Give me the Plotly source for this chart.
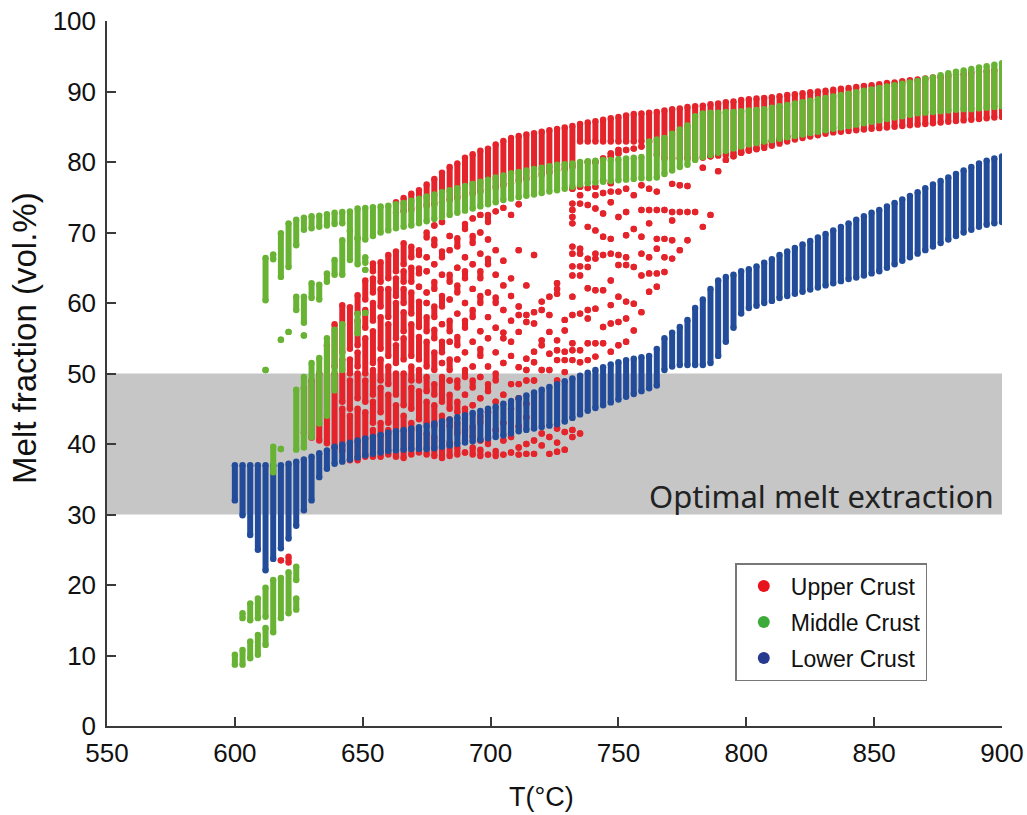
import plotly.graph_objects as go

# ---------------- data ----------------
# Each model column is a temperature step; dense runs of points are stored as
# (T, lowest melt fraction, highest melt fraction); isolated points as (T, [y...]).

# Lower crust (blue): one dense run per temperature column
LC_T = [600, 603, 606, 609, 612, 615, 618, 621, 624, 627, 630, 633, 636, 639, 642, 645, 648,
        651, 654, 657, 660, 663, 666, 669, 672, 675, 678, 681, 684, 687, 690, 693, 696, 699,
        702, 705, 708, 711, 714, 717, 720, 723, 726, 729, 732, 735, 738, 741, 744, 747, 750,
        753, 756, 759, 762, 765, 768, 771, 774, 777, 780, 783, 786, 789, 792, 795, 798, 801,
        804, 807, 810, 813, 816, 819, 822, 825, 828, 831, 834, 837, 840, 843, 846, 849, 852,
        855, 858, 861, 864, 867, 870, 873, 876, 879, 882, 885, 888, 891, 894, 897, 900]
LC_LO = [32.0, 29.9, 27.1, 25.0, 22.1, 23.7, 25.2, 26.6, 28.4, 30.6, 32.0, 35.3, 36.5, 37.2,
         37.5, 37.8, 38.1, 38.4, 38.6, 38.8, 39.0, 39.1, 39.2, 39.3, 39.3, 39.3, 39.4, 39.6,
         39.8, 40.0, 40.2, 40.4, 40.6, 40.8, 41.0, 41.2, 41.5, 41.8, 42.0, 42.2, 42.4, 42.6,
         42.8, 43.2, 43.7, 44.2, 44.7, 45.1, 45.5, 45.9, 46.3, 46.7, 47.1, 47.5, 47.9, 48.3,
         50.5, 51.0, 51.2, 51.2, 51.2, 51.2, 51.5, 52.5, 54.5, 56.5, 58.5, 59.3, 59.6, 60.0,
         60.3, 60.7, 61.0, 61.3, 61.6, 61.9, 62.2, 62.5, 62.8, 63.1, 63.4, 63.6, 63.9, 64.2,
         64.5, 65.0, 65.5, 66.0, 66.5, 67.0, 67.5, 68.0, 68.5, 69.0, 69.5, 70.0, 70.4, 70.8,
         71.1, 71.3, 71.5]
LC_HI = [37.0, 37.0, 37.0, 37.0, 37.0, 37.0, 37.0, 37.2, 37.5, 37.8, 38.2, 38.7, 39.1, 39.6,
         39.9, 40.2, 40.5, 40.8, 41.0, 41.3, 41.6, 41.8, 42.0, 42.2, 42.4, 42.6, 42.9, 43.2,
         43.5, 43.8, 44.1, 44.4, 44.7, 45.0, 45.3, 45.7, 46.1, 46.5, 46.9, 47.3, 47.7, 48.1,
         48.5, 48.9, 49.3, 49.7, 50.1, 50.5, 50.9, 51.3, 51.6, 51.9, 52.1, 52.3, 52.5, 53.5,
         55.0, 55.8, 56.6, 57.6, 59.3, 60.5, 62.0, 63.2, 63.7, 64.0, 64.5, 64.8, 65.2, 65.7,
         66.2, 66.8, 67.3, 67.8, 68.3, 68.8, 69.3, 69.8, 70.3, 70.8, 71.3, 71.8, 72.3, 72.8,
         73.2, 73.7, 74.2, 74.7, 75.2, 75.7, 76.3, 76.8, 77.3, 77.8, 78.3, 78.8, 79.3, 79.8,
         80.2, 80.5, 80.8]

# Middle crust (green): main band 645-900 C
MC_T = [645, 648, 651, 654, 657, 660, 663, 666, 669, 672, 675, 678, 681, 684, 687, 690, 693,
        696, 699, 702, 705, 708, 711, 714, 717, 720, 723, 726, 729, 732, 735, 738, 741, 744,
        747, 750, 753, 756, 759, 762, 765, 768, 771, 774, 777, 780, 783, 786, 789, 792, 795,
        798, 801, 804, 807, 810, 813, 816, 819, 822, 825, 828, 831, 834, 837, 840, 843, 846,
        849, 852, 855, 858, 861, 864, 867, 870, 873, 876, 879, 882, 885, 888, 891, 894, 897, 900]
MC_LO = [70.2, 69.2, 69.0, 69.5, 70.0, 70.3, 70.6, 70.8, 71.0, 71.3, 71.6, 71.9, 72.2, 72.5,
         72.8, 73.1, 73.4, 73.7, 74.0, 74.3, 74.6, 74.8, 75.0, 75.2, 75.4, 75.6, 75.8, 76.0,
         76.2, 76.5, 76.8, 77.0, 77.1, 77.2, 77.3, 77.4, 77.5, 77.6, 77.7, 77.7, 77.8, 78.3,
         78.8, 79.3, 79.6, 80.3, 80.7, 81.0, 81.3, 81.6, 81.9, 82.2, 82.5, 82.7, 82.9, 83.1,
         83.3, 83.5, 83.7, 83.9, 84.1, 84.3, 84.5, 84.7, 84.9, 85.1, 85.3, 85.5, 85.7, 85.9,
         86.1, 86.3, 86.5, 86.7, 86.9, 87.0, 87.1, 87.2, 87.3, 87.4, 87.5, 87.5, 87.6, 87.7,
         87.8, 87.9]
MC_HI = [73.0, 73.4, 73.5, 73.6, 73.7, 73.8, 74.0, 74.2, 74.5, 74.8, 75.1, 75.4, 75.7, 76.0,
         76.3, 76.6, 76.9, 77.2, 77.5, 77.8, 78.1, 78.4, 78.6, 78.8, 79.0, 79.2, 79.4, 79.6,
         79.7, 79.8, 80.0, 80.1, 80.2, 80.3, 80.3, 80.4, 80.5, 80.6, 80.7, 82.9, 83.2, 83.4,
         84.0, 84.6, 85.2, 86.5, 86.9, 87.0, 87.0, 87.1, 87.1, 87.2, 87.3, 87.4, 87.5, 87.7,
         87.9, 88.1, 88.3, 88.5, 88.7, 88.9, 89.1, 89.3, 89.5, 89.7, 89.9, 90.1, 90.3, 90.5,
         90.7, 90.9, 91.1, 91.3, 91.5, 91.8, 92.0, 92.3, 92.6, 92.8, 93.0, 93.2, 93.4, 93.6,
         93.8, 94.0]
# Middle crust: low-temperature runs (T, lo, hi)
MC_EXTRA = [
    (600, 8.7, 10.1), (603, 8.7, 10.8), (603, 15.3, 16.0), (606, 9.6, 12.0), (606, 15.0, 17.4),
    (609, 10.1, 12.9), (609, 15.3, 18.1), (612, 11.5, 13.9), (612, 15.5, 19.6), (615, 13.3, 20.7),
    (618, 15.3, 21.0), (621, 16.0, 21.8), (624, 16.5, 18.1), (624, 20.7, 22.6),
    (615, 36.0, 39.6), (618, 39.3, 39.3),
    (612, 50.5, 50.5), (612, 60.4, 66.4), (615, 66.2, 66.9), (618, 63.7, 69.9), (618, 54.8, 54.8),
    (621, 65.1, 71.3), (621, 55.9, 55.9), (624, 68.2, 71.8), (624, 59.0, 60.9), (624, 39.2, 47.7),
    (627, 70.4, 72.1), (627, 57.2, 60.9), (627, 55.4, 55.4), (627, 39.5, 49.5),
    (630, 70.6, 72.3), (630, 60.7, 62.8), (630, 41.0, 51.5),
    (633, 70.8, 72.4), (633, 60.5, 62.6), (633, 42.9, 52.2),
    (636, 71.0, 72.6), (636, 63.0, 64.2), (636, 44.0, 55.0),
    (639, 71.2, 72.8), (639, 64.0, 66.1), (639, 47.6, 56.2),
    (642, 71.3, 72.9), (642, 64.0, 68.9), (642, 50.5, 57.0),
    (645, 66.1, 70.3), (648, 65.5, 69.2), (648, 55.7, 58.5),
    (651, 65.7, 66.5), (651, 64.7, 64.7), (651, 58.6, 58.6),
]

# Upper crust (red): upper dense band (T, lo, hi)
UC_TOP = [
    (663, 72.8, 74.3), (666, 73.0, 74.9), (669, 73.2, 75.5), (672, 73.5, 76.0), (675, 73.8, 76.8),
    (678, 74.0, 77.6), (681, 74.3, 78.5), (684, 74.6, 79.3), (687, 74.9, 79.8), (690, 75.2, 80.6),
    (693, 75.5, 81.1), (696, 75.8, 81.6), (699, 76.1, 81.9), (702, 76.4, 82.5), (705, 76.7, 83.0),
    (708, 77.0, 83.4), (711, 77.3, 83.7), (714, 77.6, 83.9), (717, 77.9, 84.1), (720, 78.2, 84.3),
    (723, 78.5, 84.5), (726, 78.8, 84.7), (729, 79.0, 84.9), (732, 79.3, 85.1), (735, 82.9, 85.4),
    (738, 82.9, 85.6), (741, 82.9, 85.8), (744, 82.9, 86.0), (747, 82.9, 86.2), (750, 82.9, 86.4),
    (753, 82.9, 86.6), (756, 82.9, 86.8), (759, 82.9, 86.9), (762, 82.9, 87.0), (765, 81.0, 87.1),
    (768, 80.5, 87.3), (771, 80.5, 87.5), (774, 80.5, 87.6), (777, 80.5, 87.8), (780, 80.5, 87.9),
    (783, 80.6, 88.0), (786, 80.8, 88.2), (789, 80.9, 88.3), (792, 81.0, 88.5), (795, 81.2, 88.6),
    (798, 81.4, 88.8), (801, 81.6, 88.9), (804, 81.8, 89.0), (807, 82.0, 89.1), (810, 82.3, 89.2),
    (813, 82.6, 89.35), (816, 82.9, 89.5), (819, 83.2, 89.6), (822, 83.4, 89.75), (825, 83.6, 89.9),
    (828, 83.8, 90.0), (831, 84.0, 90.1), (834, 84.2, 90.25), (837, 84.3, 90.4), (840, 84.4, 90.5),
    (843, 84.5, 90.65), (846, 84.6, 90.8), (849, 84.7, 90.9), (852, 84.8, 91.05), (855, 84.9, 91.2),
    (858, 85.0, 91.3), (861, 85.1, 91.45), (864, 85.2, 91.6), (867, 85.3, 91.7), (870, 85.4, 91.85),
    (873, 85.5, 92.0), (876, 85.6, 92.1), (879, 85.7, 92.25), (882, 85.8, 92.4), (885, 85.9, 92.5),
    (888, 86.0, 92.65), (891, 86.1, 92.8), (894, 86.2, 92.9), (897, 86.3, 93.05), (900, 86.4, 93.2),
]
# Upper crust: lower, broken runs 618-702 C (T, lo, hi)
UC_RUNS = [
    (618, 23.5, 23.5), (621, 23.2, 24.0),
    (627, 41.6, 48.0), (630, 40.9, 49.0), (633, 40.5, 50.0), (636, 40.1, 54.0),
    (639, 39.5, 50.0), (639, 51.0, 57.0),
    (642, 39.0, 45.0), (642, 46.0, 52.0), (642, 53.0, 59.7),
    (645, 37.7, 44.0), (645, 45.0, 49.0), (645, 50.0, 52.0), (645, 53.5, 59.4),
    (648, 37.7, 45.0), (648, 46.5, 50.0), (648, 51.0, 53.0), (648, 54.0, 57.5), (648, 58.5, 61.1),
    (651, 38.2, 44.5), (651, 46.0, 49.0), (651, 50.0, 55.0), (651, 56.5, 59.0), (651, 60.5, 63.2),
    (654, 38.2, 42.0), (654, 43.0, 46.0), (654, 47.0, 50.5), (654, 51.5, 56.0), (654, 57.5, 60.0),
    (654, 61.5, 63.5), (654, 64.5, 65.6),
    (657, 38.2, 43.0), (657, 44.5, 48.0), (657, 49.0, 52.0), (657, 53.5, 58.0), (657, 59.5, 62.0),
    (657, 63.0, 65.8),
    (660, 38.5, 42.0), (660, 43.0, 47.0), (660, 48.5, 51.0), (660, 52.5, 57.0), (660, 58.0, 62.0),
    (660, 63.5, 66.8),
    (663, 38.2, 45.5), (663, 47.0, 50.0), (663, 51.5, 54.0), (663, 55.0, 60.0), (663, 61.0, 63.5),
    (663, 64.5, 67.3),
    (666, 38.0, 44.0), (666, 45.5, 50.0), (666, 52.0, 55.0), (666, 56.0, 58.7), (666, 60.0, 62.0),
    (666, 63.0, 64.5), (666, 65.5, 68.5),
    (669, 38.5, 43.0), (669, 45.0, 48.0), (669, 49.0, 51.0), (669, 52.5, 57.0), (669, 58.5, 61.5),
    (669, 63.0, 65.0), (669, 66.5, 68.0),
    (672, 38.8, 42.0), (672, 43.5, 47.5), (672, 49.0, 50.5), (672, 52.0, 55.2), (672, 56.6, 60.2),
    (672, 62.3, 62.3), (672, 64.2, 64.9), (672, 66.8, 67.5),
    (675, 38.5, 41.5), (675, 43.0, 46.0), (675, 47.5, 49.5), (675, 51.0, 54.5), (675, 56.0, 58.0),
    (675, 60.0, 60.0), (675, 61.5, 61.5), (675, 64.5, 64.5), (675, 66.5, 66.5), (675, 69.3, 70.0),
    (678, 38.3, 41.0), (678, 42.5, 45.5), (678, 47.0, 48.5), (678, 50.5, 53.0), (678, 55.0, 56.2),
    (678, 58.0, 59.5), (678, 62.0, 63.0), (678, 65.5, 65.5), (678, 68.2, 69.0), (678, 71.0, 71.0),
    (681, 38.0, 40.5), (681, 42.0, 44.0), (681, 46.0, 49.5), (681, 51.5, 51.5), (681, 53.0, 54.5),
    (681, 57.0, 57.0), (681, 59.5, 61.0), (681, 64.0, 64.0), (681, 66.5, 67.3), (681, 71.5, 71.5),
    (684, 38.3, 40.2), (684, 42.5, 43.5), (684, 45.0, 47.0), (684, 49.0, 49.0), (684, 50.5, 52.0),
    (684, 54.5, 54.5), (684, 56.0, 57.5), (684, 60.5, 60.5), (684, 63.0, 64.0), (684, 67.5, 67.5),
    (684, 69.5, 69.5),
    (687, 38.5, 39.5), (687, 41.5, 43.0), (687, 44.5, 46.0), (687, 48.0, 49.0), (687, 52.0, 52.0),
    (687, 54.0, 55.2), (687, 58.5, 58.5), (687, 61.5, 62.5), (687, 65.0, 65.0), (687, 68.0, 69.2),
    (690, 38.8, 38.8), (690, 40.5, 42.0), (690, 43.5, 45.0), (690, 47.0, 47.0), (690, 49.5, 50.5),
    (690, 53.0, 53.0), (690, 56.5, 57.5), (690, 60.0, 60.0), (690, 63.5, 64.5), (690, 66.5, 66.5),
    (690, 70.5, 71.2),
    (693, 38.5, 39.5), (693, 41.0, 42.5), (693, 45.5, 45.5), (693, 48.0, 49.0), (693, 51.0, 51.0),
    (693, 54.5, 54.5), (693, 58.0, 59.0), (693, 62.0, 62.0), (693, 65.5, 65.5), (693, 68.5, 69.5),
    (693, 72.0, 72.0),
    (696, 38.3, 39.2), (696, 40.5, 40.5), (696, 43.0, 44.0), (696, 46.5, 46.5), (696, 49.5, 49.5),
    (696, 52.5, 53.5), (696, 56.0, 56.0), (696, 60.0, 61.0), (696, 63.5, 64.5), (696, 67.0, 67.0),
    (696, 70.0, 70.0), (696, 72.5, 72.5),
    (699, 38.5, 38.5), (699, 40.0, 41.0), (699, 44.5, 44.5), (699, 47.5, 48.5), (699, 51.0, 51.0),
    (699, 55.0, 55.0), (699, 58.0, 58.0), (699, 61.5, 61.5), (699, 65.5, 66.3), (699, 69.0, 69.0),
    (699, 71.5, 72.5),
    (702, 38.3, 39.0), (702, 42.0, 42.0), (702, 46.0, 46.0), (702, 49.0, 50.0), (702, 53.0, 53.0),
    (702, 56.5, 56.5), (702, 60.0, 60.8), (702, 64.0, 64.0), (702, 67.5, 67.5), (702, 73.0, 73.0),
]
# Upper crust: isolated points 705-816 C (T, [melt fractions])
UC_DOTS = [
    (705, [38.5, 40.5, 43.0, 47.0, 51.5, 55.0, 55.8, 59.0, 62.5, 66.0, 73.5]),
    (708, [38.8, 41.0, 45.0, 48.5, 52.5, 54.5, 57.5, 61.0, 63.5, 72.5]),
    (711, [38.5, 39.5, 42.5, 46.5, 48.5, 50.9, 55.9, 58.3, 59.5, 67.5, 74.0]),
    (714, [38.6, 40.0, 43.8, 45.7, 49.0, 50.5, 52.1, 57.3, 58.3, 62.5]),
    (717, [38.6, 40.5, 49.0, 51.6, 53.1, 57.1, 58.7, 66.8]),
    (720, [39.8, 41.5, 50.5, 54.0, 54.7, 59.0, 60.2]),
    (723, [38.6, 41.0, 50.5, 52.8, 55.9, 58.3, 60.9]),
    (726, [38.9, 40.2, 42.2, 49.0, 51.9, 53.3, 54.7, 61.3, 62.0, 62.8]),
    (729, [39.2, 41.7, 50.2, 51.9, 53.1, 56.1, 57.6]),
    (732, [41.0, 42.0, 51.9, 53.3, 54.3, 58.3, 60.9, 63.9, 65.2, 67.0, 68.0, 71.3, 72.2, 73.2, 74.1, 76.2]),
    (735, [41.5, 51.6, 53.3, 58.5, 63.9, 65.2, 67.0, 67.7, 74.1, 75.3, 76.5]),
    (738, [51.9, 54.3, 57.8, 59.0, 62.1, 65.1, 66.3, 70.8, 73.9, 76.3, 80.0]),
    (741, [52.4, 54.3, 59.2, 61.8, 66.3, 67.0, 70.3, 73.4, 75.3, 76.5, 80.0]),
    (744, [54.3, 56.6, 61.8, 66.8, 69.4, 72.7, 75.6, 77.4, 80.5]),
    (747, [53.1, 57.1, 59.7, 63.2, 67.0, 69.1, 74.3, 75.8, 77.0, 80.8, 81.2]),
    (750, [54.0, 57.3, 60.9, 65.4, 66.8, 72.2, 75.8, 81.2, 81.7]),
    (753, [54.5, 57.8, 60.2, 65.4, 66.5, 69.6, 72.9, 76.2, 81.7]),
    (756, [56.1, 59.9, 65.1, 70.5, 75.3, 81.9]),
    (759, [58.7, 63.9, 67.0, 69.4, 73.2, 76.7, 82.2]),
    (762, [61.6, 64.2, 66.5, 71.3, 73.2, 76.2]),
    (765, [62.3, 64.2, 67.7, 69.1, 73.2, 75.8]),
    (768, [64.4, 66.5, 69.1, 73.2]),
    (771, [66.3, 68.9, 71.7, 72.9, 76.9]),
    (774, [67.5, 72.9, 76.7]),
    (777, [68.9, 72.9, 76.6]),
    (780, [72.9]),
    (783, [70.8, 79.2]),
    (786, [72.5, 80.8]),
    (789, [78.7]),
    (792, [80.3]), (795, [80.8]), (798, [81.3]), (801, [81.7]), (804, [81.9]),
    (807, [82.5]), (810, [82.9]), (813, [83.1]), (816, [83.6]),
]

SERIES_NAMES = ["Upper Crust", "Middle Crust", "Lower Crust"]
SERIES_COLORS = ["#E4232A", "#68B334", "#224C9A"]
LEGEND_COLORS = ["#E8141B", "#3DAA3A", "#263A8E"]
X_TICKS = [550, 600, 650, 700, 750, 800, 850, 900]
Y_TICKS = [0, 10, 20, 30, 40, 50, 60, 70, 80, 90, 100]
OPTIMAL_BAND = (30, 50)

# ---------------- build ----------------
def runs_to_xy(runs):
    xs, ys = [], []
    for t, lo, hi in runs:
        xs += [t, t, None]
        ys += [lo, hi, None]
    return xs, ys

uc_runs = UC_TOP + UC_RUNS + [(t, y, y) for t, ys in UC_DOTS for y in ys]
mc_runs = list(zip(MC_T, MC_LO, MC_HI)) + MC_EXTRA
lc_runs = list(zip(LC_T, LC_LO, LC_HI))

DOT = 6.0
fig = go.Figure()
for runs, color in [(uc_runs, SERIES_COLORS[0]), (lc_runs, SERIES_COLORS[2]), (mc_runs, SERIES_COLORS[1])]:
    xs, ys = runs_to_xy(runs)
    fig.add_trace(go.Scatter(x=xs, y=ys, mode="lines+markers",
                             line=dict(color=color, width=DOT),
                             marker=dict(color=color, size=DOT + 0.4, line=dict(width=0)),
                             connectgaps=False, showlegend=False, hoverinfo="skip"))

for i, (name, color) in enumerate(zip(SERIES_NAMES, LEGEND_COLORS)):
    fig.add_trace(go.Scatter(x=[None], y=[None], mode="markers", name=name,
                             legendgroup=f"g{i}",
                             marker=dict(color=color, size=12)))

fig.add_shape(type="rect", xref="x", yref="y", x0=X_TICKS[0], x1=X_TICKS[-1],
              y0=OPTIMAL_BAND[0], y1=OPTIMAL_BAND[1], fillcolor="#C6C6C6",
              line=dict(width=0), layer="below")

fig.add_annotation(x=897.7, y=32.6, xref="x", yref="y", text="Optimal melt extraction",
                   showarrow=False, xanchor="right", yanchor="middle",
                   font=dict(family="Noto Sans", size=31, color="#222222"))

fig.add_annotation(x=-0.092, y=0.55, xref="paper", yref="paper",
                   text="Melt fraction (vol.%)", textangle=-90, showarrow=False,
                   xanchor="center", yanchor="middle",
                   font=dict(family="Liberation Sans", size=33, color="#111111"))
fig.add_annotation(x=0.486, y=-0.101, xref="paper", yref="paper",
                   text="T(°C)", showarrow=False, xanchor="center", yanchor="middle",
                   font=dict(family="Liberation Sans", size=27, color="#111111"))

axis_common = dict(showgrid=False, zeroline=False, showline=True, linecolor="#3a3a3a",
                   linewidth=1.5, ticks="inside", ticklen=9, tickwidth=1.5, tickcolor="#3a3a3a",
                   automargin=False,
                   tickfont=dict(family="Liberation Sans", size=26, color="#111111"))
fig.update_xaxes(range=[550, 900], tickvals=X_TICKS, ticklabelstandoff=3, **axis_common)
fig.update_yaxes(range=[0, 100], tickvals=Y_TICKS, ticklabelstandoff=4, **axis_common)

fig.update_layout(
    width=1027, height=815,
    margin=dict(l=107, r=25, t=21, b=89),
    paper_bgcolor="white", plot_bgcolor="white",
    legend=dict(x=0.702, y=0.231, xanchor="left", yanchor="top",
                bgcolor="white", bordercolor="#777777", borderwidth=1.5,
                font=dict(family="Liberation Sans", size=23, color="#111111"),
                tracegroupgap=3, itemwidth=44),
)

fig.write_html("out.html")
